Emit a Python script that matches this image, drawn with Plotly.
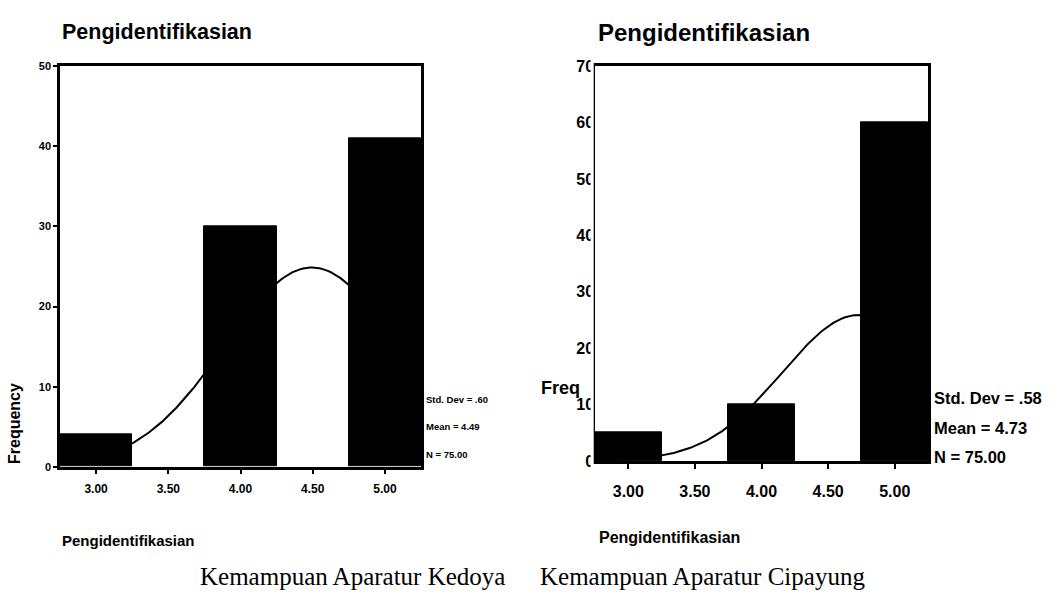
import numpy as np
import plotly.graph_objects as go

# Histogram bins (score categories) and counts for each area
bins = [3.0, 4.0, 5.0]
kedoya_counts = [4, 30, 41]
cipayung_counts = [5, 10, 60]
tick_vals = [3.0, 3.5, 4.0, 4.5, 5.0]
tick_text = ["3.00", "3.50", "4.00", "4.50", "5.00"]
bin_width = 0.5

W, H = 1058, 607


def px(x):
    return x / W


def py(y):
    return (H - y) / H


def stats(vals, counts):
    v = np.repeat(vals, counts)
    return v.mean(), v.std(ddof=1), len(v)


def normal_curve(vals, counts):
    m, s, n = stats(vals, counts)
    xs = np.linspace(2.75, 5.25, 200)
    ys = n * bin_width * np.exp(-0.5 * ((xs - m) / s) ** 2) / (s * np.sqrt(2 * np.pi))
    return xs, ys


fig = go.Figure()

# Normal curves first so the bars sit on top
for counts, xa, ya in [(kedoya_counts, "x", "y"), (cipayung_counts, "x2", "y2")]:
    cx, cy = normal_curve(bins, counts)
    fig.add_trace(go.Scatter(x=cx, y=cy, mode="lines", line=dict(color="black", width=2),
                             xaxis=xa, yaxis=ya, hoverinfo="skip"))
    fig.add_trace(go.Bar(x=bins, y=counts, width=bin_width,
                         marker=dict(color="black", line=dict(color="black", width=1)),
                         xaxis=xa, yaxis=ya))

sans = "Liberation Sans, Arial"

common_x = dict(range=[2.75, 5.25], tickvals=tick_vals, ticktext=tick_text, showgrid=False, zeroline=False,
                showline=True, linecolor="black", linewidth=2.5, mirror=True, ticks="outside",
                ticklen=4, tickwidth=2, tickcolor="black")
common_y = dict(showgrid=False, zeroline=False, showline=True, linecolor="black", linewidth=2.5,
                mirror=True, ticks="outside", ticklen=4, tickwidth=2, tickcolor="black", dtick=10)

fig.update_layout(
    width=W, height=H, margin=dict(l=0, r=0, t=0, b=0),
    paper_bgcolor="white", plot_bgcolor="white", showlegend=False, bargap=0,
    xaxis=dict(common_x, domain=[px(60), px(421)], anchor="y", ticklabelstandoff=5,
               tickfont=dict(family=sans, size=12, color="black", weight="bold")),
    yaxis=dict(common_y, domain=[py(472), py(60)], range=[0, 50], anchor="x",
               tickfont=dict(family=sans, size=11, color="black", weight="bold")),
    xaxis2=dict(common_x, domain=[px(595), px(928)], anchor="y2", ticklen=5, ticklabelstandoff=9,
                tickfont=dict(family=sans, size=16, color="black", weight="bold")),
    yaxis2=dict(common_y, domain=[py(466), py(60)], range=[0, 70], anchor="x2", ticklen=0,
                ticklabelstandoff=-5,
                tickfont=dict(family=sans, size=16, color="black", weight="bold")),
)

# White strip hides the right part of the right-hand y tick labels
fig.add_shape(type="rect", xref="paper", yref="paper", x0=px(590.5), x1=px(593.7), y0=py(475), y1=py(50),
              fillcolor="white", line=dict(width=0), layer="above")

ann = []


def text(x, y, s, size, family, xanchor="left", angle=0, bold=True):
    ann.append(dict(x=px(x), y=py(y), xref="paper", yref="paper", text=s, showarrow=False,
                    xanchor=xanchor, yanchor="middle", textangle=angle,
                    font=dict(family=family, size=size, color="black", weight="bold" if bold else "normal")))


# Titles
text(60, 25, "Pengidentifikasian", 21.5, sans)
text(596, 25, "Pengidentifikasian", 24, sans)

# Axis titles
text(14, 428, "Frequency", 16, sans, xanchor="center", angle=-90)
text(539, 391, "Freq", 18, sans)
text(60, 548, "Pengidentifikasian", 15, sans)
text(597, 545, "Pengidentifikasian", 16, sans)

# Summary statistics beside each histogram
for (counts, x0, ys, size, fam) in [(kedoya_counts, 424, [403, 431, 459], 9.5, sans),
                                     (cipayung_counts, 932, [401, 432, 462], 16.5, sans)]:
    m, s, n = stats(bins, counts)
    sd = f"{s:.2f}".lstrip("0")
    text(x0, ys[0], f"Std. Dev = {sd}", size, fam)
    text(x0, ys[1], f"Mean = {m:.2f}", size, fam)
    text(x0, ys[2], f"N = {n:.2f}", size, fam)

# Captions under each chart
text(352, 585, "Kemampuan Aparatur Kedoya", 25, "Liberation Serif, Times New Roman", xanchor="center", bold=False)
text(702, 585, "Kemampuan Aparatur Cipayung", 25, "Liberation Serif, Times New Roman", xanchor="center", bold=False)

fig.update_layout(annotations=ann)
fig.write_html("out.html")
